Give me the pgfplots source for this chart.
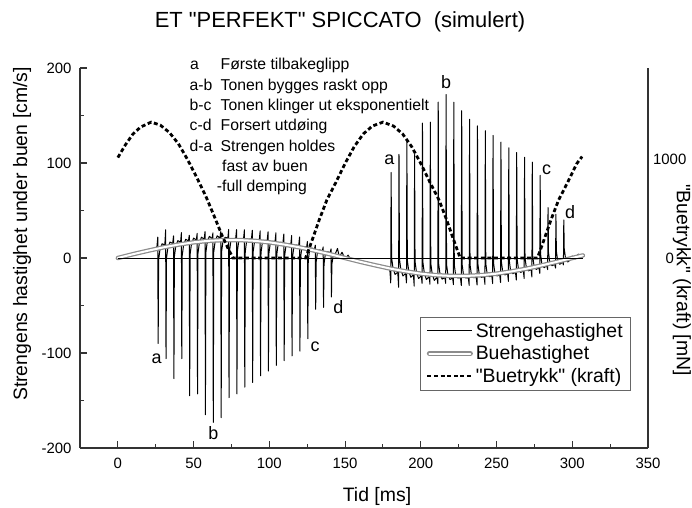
\documentclass[border=0pt]{standalone}
\usepackage{fontspec}
\setmainfont{Liberation Sans}[Ligatures=TeXOff]
\usepackage{pgfplots}
\pgfplotsset{compat=1.18}
\begin{document}
\begin{tikzpicture}
\begin{axis}[
  scale only axis, width=568bp, height=380bp,
  xmin=-25, xmax=350, ymin=-200, ymax=200,
  axis x line*=bottom, axis y line*=left,
  axis line style={-, draw=black!80, line width=1.3bp},
  every outer x axis line/.append style={-},
  every outer y axis line/.append style={-},
  xtick={0,50,...,350}, minor xtick={25,75,...,325},
  ytick={-200,-100,...,200}, minor ytick={-150,-50,50,150},
  tick align=inside, major tick length=7bp, minor tick length=4bp,
  tick style={black!80, line width=1.1bp},
  tick label style={font=\fontsize{15}{18}\selectfont},
  /pgf/number format/assume math mode=true,
  /pgf/number format/1000 sep={},
  xticklabel style={yshift=-7bp}, yticklabel style={xshift=-5bp},
  clip=false,
]
\coordinate (O) at (rel axis cs:0,0);
% string velocity
\addplot[black, line width=1bp, line join=round] coordinates {
(0,0) (5,2.0) (10,4.0) (15,5.8) (20,7.7) (24,9.2)
(25.8,12.0) (26.35,22.0) (26.6,-90) (26.9,-2.0) (27.8,9.0) (29.2,15.0)
(31.0,13.7) (31.55,29.7) (31.8,-106) (32.1,-0.3) (33.0,10.7) (34.4,16.7)
(36.2,15.3) (36.75,23.3) (37.0,-127) (37.3,1.3) (38.2,12.3) (39.6,18.3)
(41.4,16.7) (41.95,26.7) (42.2,-106) (42.5,2.7) (43.4,13.7) (44.8,19.7)
(46.6,17.9) (47.15,23.9) (47.4,-145) (47.7,3.9) (48.6,14.9) (50.0,20.9)
(51.8,18.9) (52.35,25.9) (52.6,-143) (52.9,4.9) (53.8,15.9) (55.2,21.9)
(57.0,19.8) (57.55,27.8) (57.8,-165) (58.1,5.8) (59.0,16.8) (60.4,22.8)
(62.2,20.4) (62.75,26.4) (63.0,-173) (63.3,6.4) (64.2,17.4) (65.6,23.4)
(67.4,20.8) (67.95,27.8) (68.2,-168) (68.5,6.8) (69.4,17.8) (70.8,21.8)
(72.6,21.0) (73.15,30.0) (73.4,-147) (73.7,7.0) (74.6,18.0) (76.0,20.0)
(77.8,20.9) (78.35,29.9) (78.6,-143) (78.9,6.9) (79.8,17.9) (81.2,19.9)
(83.0,20.7) (83.55,29.7) (83.8,-136) (84.1,6.7) (85.0,17.7) (86.4,19.7)
(88.2,20.2) (88.75,29.2) (89.0,-131) (89.3,6.2) (90.2,17.2) (91.6,19.2)
(93.4,19.5) (93.95,28.5) (94.2,-124) (94.5,5.5) (95.4,16.5) (96.8,18.5)
(98.6,18.6) (99.15,27.6) (99.4,-119) (99.7,4.6) (100.6,15.6) (102.0,17.6)
(103.8,17.5) (104.35,26.5) (104.6,-113) (104.9,3.5) (105.8,14.5) (107.2,16.5)
(109.0,16.2) (109.55,25.2) (109.8,-108) (110.1,2.2) (111.0,13.2) (112.4,15.2)
(114.2,14.7) (114.75,23.7) (115.0,-103) (115.3,0.7) (116.2,11.7) (117.6,13.7)
(119.4,13.1) (119.95,22.1) (120.2,-98) (120.5,-0.9) (121.4,10.1) (122.8,12.1)
(124.6,11.4) (125.15,17.4) (125.4,-85) (125.7,-2.6) (126.6,8.4) (128.0,10.4)
(129.8,9.5) (130.35,13.5) (130.6,-54) (130.9,-4.5) (131.8,6.5) (133.2,8.5)
(135.0,7.6) (135.55,11.6) (135.8,-52) (136.1,-6.4) (137.0,4.6) (138.4,6.6)
(140.2,5.6) (140.75,9.6) (141.0,-41) (141.3,-6.4) (142.2,2.6) (143.6,4.6)
(145,10) (146.2,1) (148,6) (150,-1) (152,3) (154,-2.5) (157,-1) (160,-4)
(164,-5) (168,-7.5) (172,-8.6) (176,-10) (179,-11)
(179.6,-13.3) (180.15,-26.3) (180.4,90) (180.7,0.7) (181.6,-10.3) (183.0,-17.3)
(184.8,-14.9) (185.35,-30.9) (185.6,109) (185.9,-0.9) (186.8,-11.9) (188.2,-18.9)
(190.0,-16.3) (190.55,-26.3) (190.8,125) (191.1,-2.3) (192.0,-13.3) (193.4,-20.3)
(195.1,-17.6) (195.65,-29.6) (195.9,109) (196.2,-3.6) (197.1,-14.6) (198.5,-21.6)
(200.3,-18.7) (200.85,-26.7) (201.1,142) (201.4,-4.7) (202.3,-15.7) (203.7,-22.7)
(205.5,-19.6) (206.05,-27.6) (206.3,143) (206.6,-5.6) (207.5,-16.6) (208.9,-23.6)
(210.7,-20.2) (211.25,-27.2) (211.5,164) (211.8,-6.2) (212.7,-17.2) (214.1,-22.2)
(215.9,-20.7) (216.45,-26.7) (216.7,172) (217.0,-6.7) (217.9,-17.7) (219.3,-22.7)
(221.0,-21.0) (221.55,-28.0) (221.8,164) (222.1,-7.0) (223.0,-18.0) (224.4,-21.0)
(226.2,-21.0) (226.75,-29.0) (227.0,155) (227.3,-7.0) (228.2,-18.0) (229.6,-21.0)
(231.4,-20.8) (231.95,-28.8) (232.2,146) (232.5,-6.8) (233.4,-17.8) (234.8,-20.8)
(236.6,-20.4) (237.15,-28.4) (237.4,139) (237.7,-6.4) (238.6,-17.4) (240.0,-20.4)
(241.8,-19.7) (242.35,-27.7) (242.6,134) (242.9,-5.7) (243.8,-16.7) (245.2,-19.7)
(246.9,-18.9) (247.45,-26.9) (247.7,129) (248.0,-4.9) (248.9,-15.9) (250.3,-18.9)
(252.1,-17.8) (252.65,-25.8) (252.9,122) (253.2,-3.8) (254.1,-14.8) (255.5,-17.8)
(257.3,-16.6) (257.85,-24.6) (258.1,116) (258.4,-2.6) (259.3,-13.6) (260.7,-16.6)
(262.5,-15.2) (263.05,-23.2) (263.3,111) (263.6,-1.2) (264.5,-12.2) (265.9,-15.2)
(267.7,-13.6) (268.25,-21.6) (268.5,106) (268.8,0.4) (269.7,-10.6) (271.1,-13.6)
(272.8,-12.0) (273.35,-20.0) (273.6,101) (273.9,2.0) (274.8,-9.0) (276.2,-12.0)
(278.0,-10.2) (278.55,-16.2) (278.8,87) (279.1,3.8) (280.0,-7.2) (281.4,-10.2)
(283.2,-8.2) (283.75,-12.2) (284.0,53) (284.3,5.8) (285.2,-5.2) (286.6,-8.2)
(288.4,-6.6) (288.95,-10.6) (289.2,46) (289.5,7.4) (290.4,-3.6) (291.8,-6.6)
(293.6,-4.2) (294.15,-7.2) (294.4,40) (294.7,9.8) (295.6,-1.2) (297.0,-4.2)
(298,-3) (300,2) (302,-1) (304,4) (306.5,2.5)
};
% bow velocity
\addplot[black!45, line width=4.5bp, line cap=round, line join=round] coordinates {
(0,0) (10,4.0) (20,7.7) (30,11.2) (40,14.1) (50,16.5) (60,18.1) (70,18.9) (80,18.9)
(90,18.1) (100,16.5) (110,14.1) (120,11.2) (130,7.7) (140,4.0) (150,0) (160,-4.0)
(170,-7.7) (180,-11.2) (190,-14.1) (200,-16.5) (210,-18.1) (220,-18.9) (230,-18.9)
(240,-18.1) (250,-16.5) (260,-14.1) (270,-11.2) (280,-7.7) (290,-4.0) (300,0) (307,2.7)
};
\addplot[white, line width=2bp, line cap=round, line join=round] coordinates {
(0,0) (10,4.0) (20,7.7) (30,11.2) (40,14.1) (50,16.5) (60,18.1) (70,18.9) (80,18.9)
(90,18.1) (100,16.5) (110,14.1) (120,11.2) (130,7.7) (140,4.0) (150,0) (160,-4.0)
(170,-7.7) (180,-11.2) (190,-14.1) (200,-16.5) (210,-18.1) (220,-18.9) (230,-18.9)
(240,-18.1) (250,-16.5) (260,-14.1) (270,-11.2) (280,-7.7) (290,-4.0) (300,0) (307,2.7)
};
% zero line
\addplot[black, line width=0.9bp] coordinates {(0,0) (307,0)};
\end{axis}
\begin{axis}[
  scale only axis, width=568bp, height=380bp,
  xmin=-25, xmax=350, ymin=-1930, ymax=1930,
  axis x line=none, axis y line*=right, xtick=\empty,
  axis line style={-, draw=black!80, line width=1.3bp},
  every outer y axis line/.append style={-},
  ytick={0,1000}, major tick length=0pt,
  tick label style={font=\fontsize{15}{18}\selectfont},
  /pgf/number format/assume math mode=true,
  /pgf/number format/1000 sep={},
  yticklabel style={text width=36bp, align=center, inner sep=0pt, xshift=3.5bp},
  clip=false,
  legend image code/.code={\draw[#1] (0bp,0bp) -- (45bp,0bp);},
  legend cell align=left,
  legend style={at={(0.970,0.345)}, anchor=north east, draw=black!60, line width=0.6bp,
    fill=white, font=\fontsize{19.5}{22}\selectfont, inner xsep=6bp, inner ysep=4bp,
    row sep=3bp},
]
\addlegendimage{black, line width=1bp}
\addlegendentry{Strengehastighet}
\addlegendimage{legend image code/.code={
  \draw[black!45, line width=5bp, line cap=round] (2bp,0bp) -- (43bp,0bp);
  \draw[white, line width=2bp, line cap=round] (2bp,0bp) -- (43bp,0bp);}}
\addlegendentry{Buehastighet}
\addplot[black, line width=2.8bp, dash pattern=on 4bp off 2.6bp] coordinates {
(0,1020) (5,1150) (10,1260) (15,1330) (22,1380) (28,1350) (34,1275) (40,1160) (46,1000)
(52,820) (58,630) (64,410) (69,220) (73,90) (76,0) (124,0) (128,170) (133,390) (138,590)
(144,770) (150,960) (156,1130) (162,1260) (168,1340) (175,1380) (182,1340) (188,1260)
(194,1130) (200,960) (206,770) (212,590) (217,390) (222,170) (226,0) (277,0) (281,170)
(286,390) (291,590) (297,770) (303,960) (306.5,1030)
};
\addlegendentry{"Buetrykk" (kraft)}
\end{axis}
\begin{scope}[shift={(O)}, x=1bp, y=-1bp]
\path (-80,-448) rectangle (612,60);
\node[anchor=base, inner sep=0pt, font=\fontsize{22}{26}\selectfont] at (260,-420) {ET "PERFEKT" SPICCATO\ \ (simulert)};
\node[anchor=base, inner sep=0pt, font=\fontsize{19.5}{23}\selectfont] at (297,54) {Tid [ms]};
\node[rotate=90, inner sep=0pt, font=\fontsize{19.5}{23}\selectfont] at (-58,-214) {Strengens hastighet under buen [cm/s]};
\node[rotate=-90, inner sep=0pt, font=\fontsize{19.5}{23}\selectfont] at (602,-168) {"Buetrykk" (kraft) [mN]};
\begin{scope}[every node/.style={anchor=base west, inner sep=0pt, font=\fontsize{15.8}{19}\selectfont}]
\node at (110,-378) {a};     \node at (140.5,-378) {Første tilbakeglipp};
\node at (109.5,-357.7) {a-b}; \node at (140.5,-357.7) {Tonen bygges raskt opp};
\node at (109.5,-337.4) {b-c}; \node at (140.5,-337.4) {Tonen klinger ut eksponentielt};
\node at (109.5,-317.1) {c-d}; \node at (140.5,-317.1) {Forsert utdøing};
\node at (109.5,-296.8) {d-a}; \node at (140.5,-296.8) {Strengen holdes};
\node at (142,-276.5) {fast av buen};
\node at (136.7,-256.2) {-full demping};
\end{scope}
\begin{scope}[every node/.style={inner sep=0pt, font=\fontsize{18}{21}\selectfont}]
\node at (76.7,-89.7) {a};
\node at (133.3,-14.7) {b};
\node at (235,-101.3) {c};
\node at (258.3,-141.3) {d};
\node at (309.3,-288) {a};
\node at (366,-366.3) {b};
\node at (466.7,-278) {c};
\node at (490,-236.3) {d};
\end{scope}
\end{scope}
\end{tikzpicture}
\end{document}
